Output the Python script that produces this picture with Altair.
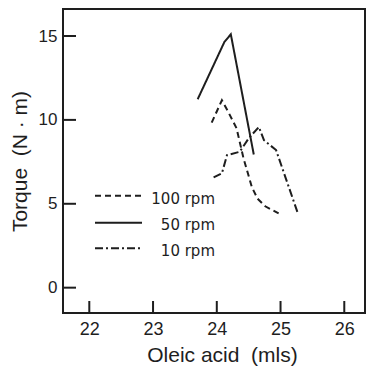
import altair as alt
import pandas as pd

# ---- data ----
x100 = [23.92, 24.08, 24.19, 24.31, 24.42, 24.55, 24.64, 24.76, 24.97]
y100 = [9.84, 11.17, 10.40, 9.50, 7.70, 6.00, 5.30, 4.85, 4.43]

x50 = [23.70, 24.12, 24.22, 24.58]
y50 = [11.23, 14.65, 15.10, 7.94]

x10 = [23.95, 24.08, 24.16, 24.36, 24.50, 24.66, 24.74, 24.93, 25.27]
y10 = [6.57, 6.81, 7.90, 8.10, 8.90, 9.58, 8.79, 8.20, 4.45]

series_names = ["100 rpm", "50 rpm", "10 rpm"]
x_ticks = [22, 23, 24, 25, 26]
y_ticks = [0, 5, 10, 15]

# ---- build table ----
rows = []
for name, xs, ys in zip(series_names, [x100, x50, x10], [y100, y50, y10]):
    for i, (a, b) in enumerate(zip(xs, ys)):
        rows.append({"series": name, "x": a, "y": b, "order": i})
df = pd.DataFrame(rows)

dashes = [[6, 4], [1, 0], [8, 3, 2, 3]]
INK = "#1e1e1e"

xscale = alt.Scale(domain=[21.5875, 26.325], nice=False, zero=False)
yscale = alt.Scale(domain=[-1.51, 16.61], nice=False, zero=False)

xaxis = alt.Axis(values=x_ticks, format="d", ticks=False, tickSize=0, domain=False, grid=False,
                 labelPadding=7, labelFontSize=18, labelFont="Liberation Sans",
                 labelColor=INK, title="Oleic acid\u00a0 (mls)", titleFont="Liberation Sans",
                 titleFontSize=21, titleFontWeight="normal", titleColor=INK,
                 titleX=159, titleY=42, titleBaseline="middle", titleAlign="center")
yaxis = alt.Axis(values=y_ticks, format="d", ticks=False, tickSize=0, domain=False, grid=False,
                 labelPadding=6, labelFontSize=17, labelFont="Liberation Sans",
                 labelColor=INK, title="Torque\u00a0 (N · m)", titleFont="Liberation Sans",
                 titleFontSize=21, titleFontWeight="normal", titleColor=INK,
                 titleX=-43, titleY=152, titleBaseline="middle", titleAlign="center",
                 titleAngle=270)

lines = alt.Chart(df).mark_line(strokeWidth=2, color=INK).encode(
    x=alt.X("x:Q", scale=xscale, axis=xaxis),
    y=alt.Y("y:Q", scale=yscale, axis=yaxis),
    detail="series:N",
    strokeDash=alt.StrokeDash("series:N", scale=alt.Scale(domain=series_names, range=dashes), legend=None),
    order="order:Q",
)

xt = alt.Chart(pd.DataFrame({"t": x_ticks})).mark_rule(strokeWidth=2, color=INK).encode(
    x=alt.X("t:Q", scale=xscale), y=alt.value(304), y2=alt.value(292)
)
yt = alt.Chart(pd.DataFrame({"t": y_ticks})).mark_rule(strokeWidth=2, color=INK).encode(
    y=alt.Y("t:Q", scale=yscale), x=alt.value(0), x2=alt.value(13)
)

legend_line_y = [186.7, 213.7, 239.3]
legend_text_y = [189.5, 216.0, 241.5]
legend_layers = []
for name, dsh, ly, ty in zip(series_names, dashes, legend_line_y, legend_text_y):
    d = pd.DataFrame({"label": [name]})
    legend_layers.append(
        alt.Chart(d).mark_rule(strokeWidth=2, color=INK, strokeDash=dsh).encode(
            x=alt.value(32), x2=alt.value(79), y=alt.value(ly)
        )
    )
    legend_layers.append(
        alt.Chart(d).mark_text(align="right", baseline="middle", font="DejaVu Sans",
                               fontSize=15, color=INK).encode(
            x=alt.value(152), y=alt.value(ty), text="label:N"
        )
    )

chart = alt.layer(lines, xt, yt, *legend_layers).properties(
    width=302, height=304,
    autosize=alt.AutoSizeParams(type="none"),
    padding={"left": 63, "top": 9, "right": 1, "bottom": 61},
    background="white",
).configure_view(stroke=INK, strokeWidth=2)

chart.save("out.html", embed_options={"renderer": "svg", "actions": False})
